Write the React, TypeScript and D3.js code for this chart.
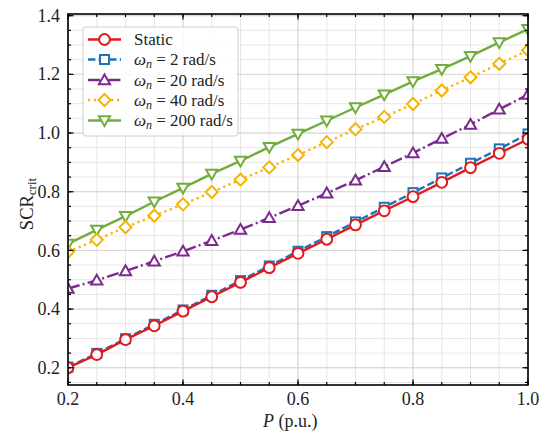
import React from "react";
import * as d3 from "d3";

const P = [0.2, 0.25, 0.3, 0.35, 0.4, 0.45, 0.5, 0.55, 0.6, 0.65, 0.7, 0.75, 0.8, 0.85, 0.9, 0.95, 1.0];
const staticVals = [0.2, 0.245, 0.296, 0.343, 0.393, 0.442, 0.491, 0.541, 0.59, 0.638, 0.687, 0.735, 0.783, 0.832, 0.882, 0.931, 0.979];
const wn2Vals = [0.202, 0.249, 0.299, 0.348, 0.397, 0.447, 0.497, 0.547, 0.597, 0.647, 0.697, 0.747, 0.797, 0.847, 0.897, 0.946, 0.997];
const wn20Vals = [0.47, 0.498, 0.53, 0.563, 0.597, 0.633, 0.671, 0.711, 0.752, 0.795, 0.839, 0.885, 0.932, 0.981, 1.029, 1.081, 1.131];
const wn40Vals = [0.595, 0.636, 0.679, 0.718, 0.757, 0.799, 0.841, 0.883, 0.925, 0.969, 1.013, 1.055, 1.099, 1.145, 1.19, 1.236, 1.282];
const wn200Vals = [0.622, 0.67, 0.717, 0.766, 0.813, 0.861, 0.905, 0.952, 0.997, 1.042, 1.087, 1.131, 1.176, 1.218, 1.262, 1.309, 1.354];

const xTicks = [0.2, 0.4, 0.6, 0.8, 1.0];
const yTicks = [0.2, 0.4, 0.6, 0.8, 1.0, 1.2, 1.4];
const xMinor = d3.range(0.2, 1.0001, 0.05);
const yMinor = d3.range(0.15, 1.4001, 0.05);

type Series = {
  key: string;
  label: string | null;
  wn: string | null;
  values: number[];
  color: string;
  dash: string;
  marker: "circle" | "square" | "triUp" | "diamond" | "triDown";
};

const series: Series[] = [
  { key: "static", label: "Static", wn: null, values: staticVals, color: "#e31a1c", dash: "none", marker: "circle" },
  { key: "wn2", label: null, wn: "2", values: wn2Vals, color: "#1f72b8", dash: "7.4,3.2", marker: "square" },
  { key: "wn20", label: null, wn: "20", values: wn20Vals, color: "#7b2a8e", dash: "12,3.2,2,3.2", marker: "triUp" },
  { key: "wn40", label: null, wn: "40", values: wn40Vals, color: "#f5b400", dash: "2.2,3.6", marker: "diamond" },
  { key: "wn200", label: null, wn: "200", values: wn200Vals, color: "#72ad3c", dash: "none", marker: "triDown" },
];

const W = 550;
const H = 447;
const left = 68;
const right = 528;
const top = 14;
const bottom = 385;

const x = d3.scaleLinear().domain([0.2, 1.0]).range([left, right]);
const y = d3.scaleLinear().domain([0.1412, 1.4058]).range([bottom, top]);

const FONT = '"Liberation Serif", "DejaVu Serif", serif';
const fs = { fontFamily: FONT };

function Marker({ type, cx, cy, color }: { type: Series["marker"]; cx: number; cy: number; color: string }) {
  const sw = 2;
  if (type === "circle") return <circle cx={cx} cy={cy} r={5.4} fill="#fff" stroke={color} strokeWidth={sw} />;
  if (type === "square") return <rect x={cx - 4.5} y={cy - 4.5} width={9} height={9} fill="#fff" stroke={color} strokeWidth={sw} />;
  if (type === "diamond") {
    const r = 6;
    return <path d={`M${cx},${cy - r}L${cx + r},${cy}L${cx},${cy + r}L${cx - r},${cy}Z`} fill="#fff" stroke={color} strokeWidth={sw} />;
  }
  const s = 5.6;
  if (type === "triUp")
    return <path d={`M${cx},${cy - s}L${cx + s},${cy + s * 0.75}L${cx - s},${cy + s * 0.75}Z`} fill="#fff" stroke={color} strokeWidth={sw} />;
  return <path d={`M${cx},${cy + s}L${cx + s},${cy - s * 0.75}L${cx - s},${cy - s * 0.75}Z`} fill="#fff" stroke={color} strokeWidth={sw} />;
}

export default function App() {
  const line = d3
    .line<number>()
    .x((_, i) => x(P[i]))
    .y((d) => y(d));

  const drawOrder = [...series].reverse();
  const legendRows = [39.5, 59.5, 80, 100, 120.5];

  return (
    <svg width={W} height={H} style={{ position: "absolute", left: 0, top: 0, background: "#fff", fontFamily: FONT }}>
      <rect x={0} y={0} width={W} height={H} fill="#fff" />
      <defs>
        <clipPath id="plotClip">
          <rect x={left} y={top} width={right - left} height={bottom - top} />
        </clipPath>
      </defs>
      {/* grid */}
      <g stroke="#e3e3e3" strokeWidth={0.9}>
        {xMinor.map((v, i) => (
          <line key={"gx" + i} x1={x(v)} x2={x(v)} y1={top} y2={bottom} />
        ))}
        {yMinor.map((v, i) => (
          <line key={"gy" + i} x1={left} x2={right} y1={y(v)} y2={y(v)} />
        ))}
      </g>
      <g stroke="#d6d6d6" strokeWidth={1}>
        {xTicks.map((v, i) => (
          <line key={"Gx" + i} x1={x(v)} x2={x(v)} y1={top} y2={bottom} />
        ))}
        {yTicks.map((v, i) => (
          <line key={"Gy" + i} x1={left} x2={right} y1={y(v)} y2={y(v)} />
        ))}
      </g>
      {/* series */}
      <g clipPath="url(#plotClip)">
        {drawOrder.map((s) => (
          <g key={s.key}>
            <path d={line(s.values) || ""} fill="none" stroke={s.color} strokeWidth={2.4} strokeDasharray={s.dash} />
            {s.values.map((v, i) => (
              <Marker key={i} type={s.marker} cx={x(P[i])} cy={y(v)} color={s.color} />
            ))}
          </g>
        ))}
      </g>
      {/* ticks */}
      <g stroke="#000" strokeWidth={1.2}>
        {xMinor.map((v, i) => (
          <g key={"tx" + i}>
            <line x1={x(v)} x2={x(v)} y1={bottom} y2={bottom - 3} />
            <line x1={x(v)} x2={x(v)} y1={top} y2={top + 3} />
          </g>
        ))}
        {xTicks.map((v, i) => (
          <g key={"TX" + i}>
            <line x1={x(v)} x2={x(v)} y1={bottom} y2={bottom - 5.5} />
            <line x1={x(v)} x2={x(v)} y1={top} y2={top + 5.5} />
          </g>
        ))}
        {yMinor.map((v, i) => (
          <g key={"ty" + i}>
            <line x1={left} x2={left + 3} y1={y(v)} y2={y(v)} />
            <line x1={right} x2={right - 3} y1={y(v)} y2={y(v)} />
          </g>
        ))}
        {yTicks.map((v, i) => (
          <g key={"TY" + i}>
            <line x1={left} x2={left + 5.5} y1={y(v)} y2={y(v)} />
            <line x1={right} x2={right - 5.5} y1={y(v)} y2={y(v)} />
          </g>
        ))}
      </g>
      <rect x={left} y={top} width={right - left} height={bottom - top} fill="none" stroke="#000" strokeWidth={1.6} />
      {/* tick labels */}
      <g fontSize={18} fill="#222">
        {xTicks.map((v, i) => (
          <text key={"lx" + i} x={x(v)} y={405} textAnchor="middle" style={fs}>
            {d3.format(".1f")(v)}
          </text>
        ))}
        {yTicks.map((v, i) => (
          <text key={"ly" + i} x={60} y={y(v)} dy="0.34em" textAnchor="end" style={fs}>
            {d3.format(".1f")(v)}
          </text>
        ))}
      </g>
      {/* axis labels */}
      <text x={263} y={427} fontSize={18} fill="#222" style={fs}>
        <tspan fontStyle="italic">P</tspan>
        <tspan> (p.u.)</tspan>
      </text>
      <text transform="translate(33,204) rotate(-90)" textAnchor="middle" fontSize={18.5} fill="#222" style={fs}>
        <tspan>SCR</tspan>
        <tspan fontSize={13} dy={3}>crit</tspan>
      </text>
      {/* legend */}
      <rect x={83} y={27} width={155} height={109} rx={3} fill="#fff" fillOpacity={0.85} stroke="#cfcfcf" strokeWidth={1} />
      {series.map((s, i) => {
        const ly = legendRows[i];
        return (
          <g key={"leg" + s.key}>
            <line x1={88} x2={121} y1={ly} y2={ly} stroke={s.color} strokeWidth={2.4} strokeDasharray={s.dash} />
            <Marker type={s.marker} cx={104.5} cy={ly} color={s.color} />
            <text x={134} y={ly} dy="0.35em" fontSize={17} fill="#222" style={fs}>
              {s.label ? (
                s.label
              ) : (
                <>
                  <tspan fontStyle="italic">ω</tspan>
                  <tspan fontStyle="italic" fontSize={12} dy={3}>n</tspan>
                  <tspan dy={-3}> = {s.wn} rad/s</tspan>
                </>
              )}
            </text>
          </g>
        );
      })}
    </svg>
  );
}
